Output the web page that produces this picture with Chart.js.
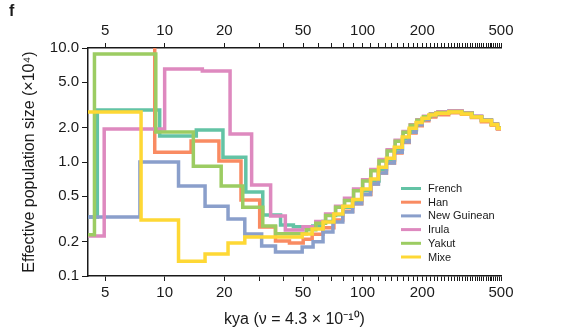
<!DOCTYPE html>
<html lang="en">
<head>
<meta charset="UTF-8">
<title>Effective population size</title>
<script src="https://cdn.jsdelivr.net/npm/chart.js"></script>
<style>
    html, body { margin: 0; padding: 0; background: #fff; }
</style>
</head>
<body>
<canvas id="psmcChart" width="561" height="336"></canvas>
<script>
    // [start of step (kya), Ne (x10^4)]
    var french = [[4.1,0.33],[4.57,2.86],[9.44,1.69],[14.45,1.91],[19.7,1.10],[25.7,0.545],[31.3,0.343],[38.5,0.28],[44.7,0.27],
        [56,0.275],[63,0.30],[71,0.345],[79.4,0.40],[89,0.46],[99,0.56],[110,0.68],[121,0.86],[132,1.04],[145,1.3],[159,1.6],
        [172,1.92],[187,2.18],[200,2.38],[217,2.55],[235,2.66],[272,2.74],[316,2.66],[355,2.5],[398,2.32],[447,2.14],[480,1.97],[500,1.97]];
    var han = [[4.1,12],[8.91,1.22],[13.6,1.53],[18.8,1.02],[24.3,0.464],[30.2,0.269],[36.3,0.203],[42.7,0.195],[50.1,0.21],
        [55.6,0.232],[63,0.265],[71.6,0.31],[79.4,0.37],[89,0.43],[99,0.52],[110,0.64],[120,0.80],[132,0.98],[145,1.2],[158,1.48],
        [172,1.8],[186,2.08],[200,2.3],[216,2.48],[234,2.6],[272,2.7],[316,2.62],[355,2.46],[398,2.26],[447,2.1],[480,1.95],[500,1.95]];
    var newGuinean = [[4.1,0.33],[7.5,1.0],[11.75,0.616],[16.0,0.41],[20.9,0.316],[25.4,0.234],[30.9,0.183],[36.3,0.162],[49.5,0.18],
        [56.2,0.2],[63.1,0.243],[70.8,0.298],[79.4,0.364],[89.1,0.43],[98.9,0.52],[109.6,0.64],[120.2,0.80],[131.8,0.98],[144.5,1.22],
        [158.5,1.5],[171.8,1.82],[186.2,2.12],[199.5,2.36],[216.3,2.56],[234.4,2.7],[272.3,2.8],[316.2,2.7],[354.8,2.52],[398.1,2.32],
        [446.7,2.14],[480,1.98],[500,1.98]];
    var irula = [[4.1,0.224],[4.95,1.95],[10.0,6.55],[15.5,6.3],[21.4,1.76],[27.5,0.628],[34.3,0.336],[40.7,0.253],[50,0.27],
        [58,0.30],[65,0.35],[73,0.41],[81,0.48],[90,0.58],[100,0.70],[110,0.86],[121,1.05],[133,1.28],[146,1.55],[160,1.85],
        [174,2.12],[188,2.35],[203,2.52],[220,2.65],[240,2.76],[275,2.82],[318,2.7],[358,2.52],[400,2.34],[448,2.16],[480,2.0],[500,2.0]];
    var yakut = [[4.1,0.23],[4.42,8.86],[9.02,1.83],[13.96,0.92],[19.3,0.616],[24.8,0.40],[31.3,0.275],[36.3,0.235],[52,0.255],
        [58,0.29],[65,0.34],[73,0.40],[81,0.46],[90,0.56],[100,0.68],[110,0.84],[121,1.02],[133,1.25],[146,1.52],[160,1.82],
        [174,2.1],[188,2.32],[203,2.5],[220,2.63],[240,2.72],[275,2.78],[318,2.68],[358,2.5],[400,2.32],[448,2.14],[480,1.99],[500,1.99]];
    var mixe = [[4.1,2.75],[7.6,0.31],[11.75,0.135],[16.0,0.156],[20.9,0.195],[25.4,0.22],[49.5,0.234],[55.6,0.258],[63.1,0.298],
        [71.6,0.35],[79.4,0.41],[89.1,0.47],[98.9,0.58],[109.6,0.71],[120.2,0.90],[131.8,1.08],[144.5,1.35],[158.5,1.66],[171.8,1.98],
        [186.2,2.22],[199.5,2.42],[216.3,2.58],[234.4,2.68],[272.3,2.75],[316.2,2.64],[354.8,2.48],[398.1,2.3],[446.7,2.12],[480,1.98],[500,1.98]];

    var populations = ['French', 'Han', 'New Guinean', 'Irula', 'Yakut', 'Mixe'];
    var seriesData = [french, han, newGuinean, irula, yakut, mixe];
    var colors = ['#63c3a5', '#f98b62', '#8a9fcb', '#de89bf', '#9ccc62', '#fed835'];

    var xLabelTicks = [5, 10, 20, 50, 100, 200, 500];
    var yTicks = [0.1, 0.2, 0.5, 1, 2, 5, 10];
    var xTicks = [5];
    for (var t = 10; t <= 500; t += 10) xTicks.push(t);

    Chart.defaults.font.family = '"Liberation Sans", Arial, sans-serif';
    Chart.defaults.color = '#1a1a1a';

    var ink = '#1a1a1a';

    function xAxis(pos, h) {
        return {
            type: 'logarithmic',
            position: pos,
            min: 4.1,
            max: 500,
            afterBuildTicks: function (scale) {
                scale.ticks = xTicks.map(function (v) { return { value: v }; });
            },
            afterFit: function (scale) { scale.height = h; },
            ticks: {
                autoSkip: false,
                maxRotation: 0,
                padding: 3,
                font: { size: 15 },
                color: ink,
                callback: function (v) { return xLabelTicks.indexOf(v) >= 0 ? String(v) : ''; }
            },
            grid: { drawOnChartArea: false, drawTicks: true, tickLength: 5, color: ink, lineWidth: 1 },
            border: { display: true, color: ink, width: 1.5 }
        };
    }

    var bottomAxis = xAxis('bottom', 60);
    bottomAxis.title = {
        display: true,
        text: 'kya (\u03bd = 4.3 \u00d7 10\u207b\u00b9\u2070)',
        font: { size: 16 },
        color: ink,
        padding: { top: 0, bottom: 7 }
    };

    // panel letter and the in-plot legend
    var decorations = {
        id: 'decorations',
        afterDraw: function (chart) {
            var ctx = chart.ctx;
            ctx.save();
            ctx.fillStyle = ink;
            ctx.font = 'bold 16px "Liberation Sans", Arial, sans-serif';
            ctx.textBaseline = 'top';
            ctx.fillText('f', 9, 4);

            ctx.font = '11px "Liberation Sans", Arial, sans-serif';
            ctx.textBaseline = 'middle';
            chart.data.datasets.forEach(function (ds, i) {
                var y = 188.5 + i * 13.7;
                ctx.strokeStyle = ds.borderColor;
                ctx.lineWidth = 3;
                ctx.beginPath();
                ctx.moveTo(401, y);
                ctx.lineTo(421, y);
                ctx.stroke();
                ctx.fillStyle = ink;
                ctx.fillText(ds.label, 428, y + 0.5);
            });
            ctx.restore();
        }
    };

    var ctx = document.getElementById('psmcChart').getContext('2d');
    var chart = new Chart(ctx, {
        type: 'line',
        data: {
            datasets: populations.map(function (name, i) {
                return {
                    label: name,
                    data: seriesData[i].map(function (p) { return { x: p[0], y: p[1] }; }),
                    borderColor: colors[i],
                    backgroundColor: colors[i],
                    borderWidth: 3.5,
                    pointRadius: 0,
                    stepped: 'before',
                    fill: false,
                    order: populations.length - i,
                    xAxisID: 'x',
                    yAxisID: 'y'
                };
            })
        },
        options: {
            responsive: false,
            animation: false,
            devicePixelRatio: 1,
            layout: { padding: { top: 0, right: 60, bottom: 0, left: 0 } },
            plugins: {
                legend: { display: false },
                tooltip: { enabled: false }
            },
            scales: {
                x: bottomAxis,
                x2: xAxis('top', 48),
                y: {
                    type: 'logarithmic',
                    position: 'left',
                    min: 0.1,
                    max: 10,
                    afterBuildTicks: function (scale) {
                        scale.ticks = yTicks.map(function (v) { return { value: v }; });
                    },
                    afterFit: function (scale) { scale.width = 88; },
                    ticks: {
                        padding: 3,
                        font: { size: 15 },
                        color: ink,
                        callback: function (v) { return v.toFixed(1); }
                    },
                    grid: { drawOnChartArea: false, drawTicks: true, tickLength: 6, color: ink, lineWidth: 1 },
                    border: { display: true, color: ink, width: 1.5 },
                    title: {
                        display: true,
                        text: 'Effective population size (\u00d710\u2074)',
                        font: { size: 16 },
                        color: ink,
                        padding: { top: 20, bottom: 0 }
                    }
                }
            }
        },
        plugins: [decorations]
    });
</script>
</body>
</html>
